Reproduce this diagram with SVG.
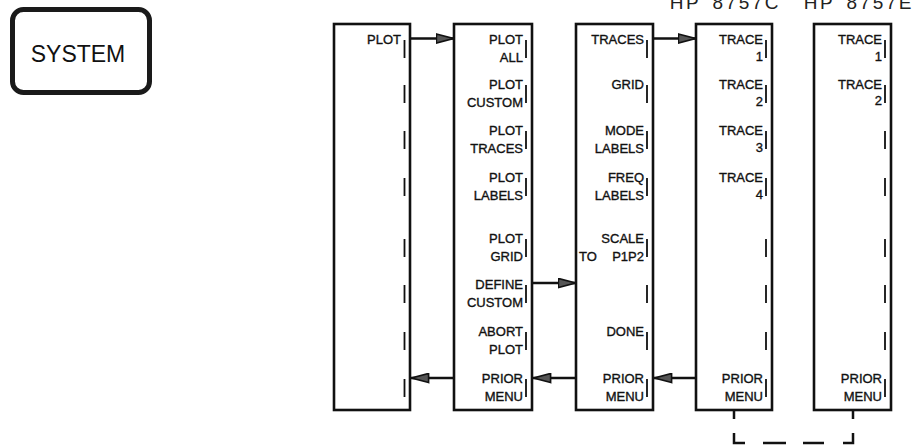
<svg xmlns="http://www.w3.org/2000/svg" width="917" height="447" viewBox="0 0 917 447">
<style>
  .box { fill: #fff; stroke: #111; stroke-width: 2.6; }
  .tick { fill: none; stroke: #111; stroke-width: 1.8; }
  .lbl { font-family: "Liberation Sans", Arial, sans-serif; font-size: 13px; text-anchor: end; fill: #111; stroke: #111; stroke-width: 0.35; }
  .lbls { font-family: "Liberation Sans", Arial, sans-serif; font-size: 13px; text-anchor: start; fill: #111; stroke: #111; stroke-width: 0.35; }
  .hdr { font-family: "Liberation Sans", Arial, sans-serif; font-size: 19px; text-anchor: end; fill: #222; letter-spacing: 2.5px; word-spacing: 4px; }
  .conn { fill: none; stroke: #111; stroke-width: 2.3; }
  .dash { fill: none; stroke: #111; stroke-width: 2.5; stroke-dasharray: 9 14 21 18 23 17 21 19 20 14 9; }
</style>
<defs>
  <marker id="ah" viewBox="0 0 19 11" refX="18.5" refY="5.5" markerWidth="19" markerHeight="11" markerUnits="userSpaceOnUse" orient="auto">
    <path d="M0.9,0.9 L18,5.5 L0.9,10.1 Z" fill="#555" stroke="#111" stroke-width="1.6"/>
  </marker>
</defs>
<rect width="917" height="447" fill="#fff"/>

<g id="headers">
  <text class="hdr" x="781" y="9">HP 8757C</text>
  <text class="hdr" x="914" y="9">HP 8757E</text>
</g>

<g id="system-key">
  <rect x="12.5" y="9.5" width="137" height="83" rx="11" fill="#fff" stroke="#1a1a1a" stroke-width="5"/>
  <text x="78" y="62" font-family="'Liberation Sans', Arial, sans-serif" font-size="23" text-anchor="middle" fill="#111">SYSTEM</text>
</g>

<g id="menu-system">
  <rect class="box" x="334" y="24" width="76" height="386"/>
  <path class="tick" d="M404.5 40V58M404.5 85V103M404.5 131V149M404.5 178V196M404.5 239V257M404.5 285V303M404.5 332V350M404.5 379V397"/>
  <text class="lbl" x="401" y="44">PLOT</text>
</g>

<g id="menu-plot">
  <rect class="box" x="454" y="24" width="78" height="386"/>
  <path class="tick" d="M526 40V58M526 85V103M526 131V149M526 178V196M526 239V257M526 285V303M526 332V350M526 379V397"/>
  <text class="lbl" x="523" y="44">PLOT</text><text class="lbl" x="523" y="62">ALL</text>
  <text class="lbl" x="523" y="89">PLOT</text><text class="lbl" x="523" y="107">CUSTOM</text>
  <text class="lbl" x="523" y="135">PLOT</text><text class="lbl" x="523" y="153">TRACES</text>
  <text class="lbl" x="523" y="182">PLOT</text><text class="lbl" x="523" y="200">LABELS</text>
  <text class="lbl" x="523" y="243">PLOT</text><text class="lbl" x="523" y="261">GRID</text>
  <text class="lbl" x="523" y="289">DEFINE</text><text class="lbl" x="523" y="307">CUSTOM</text>
  <text class="lbl" x="523" y="336">ABORT</text><text class="lbl" x="523" y="354">PLOT</text>
  <text class="lbl" x="523" y="383">PRIOR</text><text class="lbl" x="523" y="401">MENU</text>
</g>

<g id="menu-define-plot">
  <rect class="box" x="576" y="24" width="77" height="386"/>
  <path class="tick" d="M647 40V58M647 85V103M647 131V149M647 178V196M647 239V257M647 285V303M647 332V350M647 379V397"/>
  <text class="lbl" x="644" y="44">TRACES</text>
  <text class="lbl" x="644" y="89">GRID</text>
  <text class="lbl" x="644" y="135">MODE</text><text class="lbl" x="644" y="153">LABELS</text>
  <text class="lbl" x="644" y="182">FREQ</text><text class="lbl" x="644" y="200">LABELS</text>
  <text class="lbl" x="644" y="243">SCALE</text><text class="lbl" x="644" y="261">P1P2</text>
  <text class="lbls" x="579" y="261">TO</text>
  <text class="lbl" x="644" y="336">DONE</text>
  <text class="lbl" x="644" y="383">PRIOR</text><text class="lbl" x="644" y="401">MENU</text>
</g>

<g id="menu-traces-8757c">
  <rect class="box" x="696" y="24" width="76" height="386"/>
  <path class="tick" d="M766 40V58M766 85V103M766 131V149M766 178V196M766 239V257M766 285V303M766 332V350M766 379V397"/>
  <text class="lbl" x="763" y="44">TRACE</text><text class="lbl" x="763" y="61">1</text>
  <text class="lbl" x="763" y="89">TRACE</text><text class="lbl" x="763" y="106">2</text>
  <text class="lbl" x="763" y="135">TRACE</text><text class="lbl" x="763" y="152">3</text>
  <text class="lbl" x="763" y="182">TRACE</text><text class="lbl" x="763" y="199">4</text>
  <text class="lbl" x="763" y="383">PRIOR</text><text class="lbl" x="763" y="401">MENU</text>
</g>

<g id="menu-traces-8757e">
  <rect class="box" x="814" y="24" width="77" height="386"/>
  <path class="tick" d="M885 40V58M885 85V103M885 131V149M885 178V196M885 239V257M885 285V303M885 332V350M885 379V397"/>
  <text class="lbl" x="882" y="44">TRACE</text><text class="lbl" x="882" y="61">1</text>
  <text class="lbl" x="882" y="89">TRACE</text><text class="lbl" x="882" y="105">2</text>
  <text class="lbl" x="882" y="383">PRIOR</text><text class="lbl" x="882" y="401">MENU</text>
</g>

<g id="connectors">
  <path class="conn" d="M411 38.5H454" marker-end="url(#ah)"/>
  <path class="conn" d="M533 283H576" marker-end="url(#ah)"/>
  <path class="conn" d="M654 38.5H696" marker-end="url(#ah)"/>
  <path class="conn" d="M576 378H533" marker-end="url(#ah)"/>
  <path class="conn" d="M454 378H411" marker-end="url(#ah)"/>
  <path class="conn" d="M696 378H654" marker-end="url(#ah)"/>
  <path class="dash" d="M734 410V443H853V410"/>
</g>
</svg>
